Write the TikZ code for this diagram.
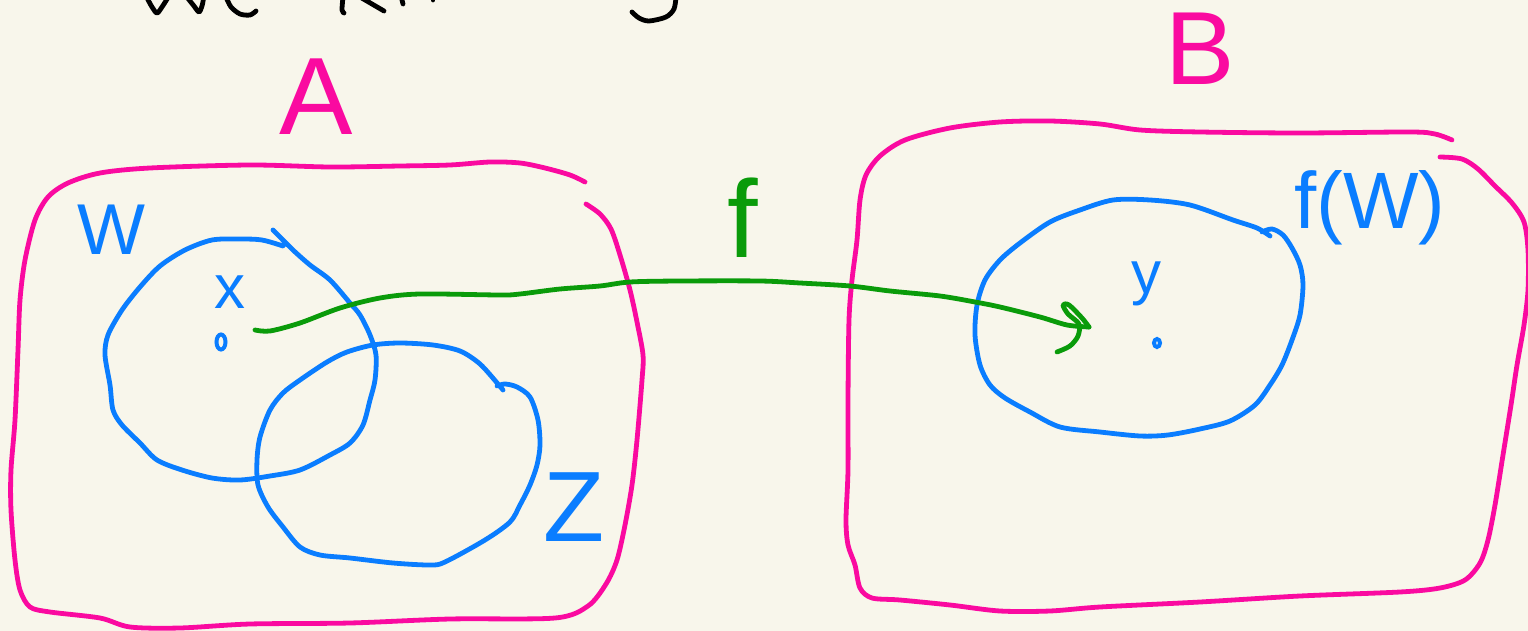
\documentclass[tikz,border=0pt]{standalone}
\usepackage{fontspec}
\setmainfont{Liberation Sans}
\definecolor{bg}{RGB}{248,246,235}
\definecolor{pnk}{RGB}{250,10,160}
\definecolor{blu}{RGB}{10,125,255}
\definecolor{grn}{RGB}{10,155,10}
\tikzset{
  pen/.style={line width=4.8pt,line cap=round,line join=round},
  lbl/.style={inner sep=0pt,outer sep=0pt},
}
\newcommand{\fsz}[1]{\fontsize{#1}{#1}\selectfont}
\begin{document}
\begin{tikzpicture}[x=1pt,y=-1pt]
\fill[bg] (0,0) rectangle (1528,631);
\useasboundingbox (0,0) rectangle (1528,631);
\clip (0,0) rectangle (1528,631);

% cut-off handwriting at the top
\begin{scope}[pen,black]
\draw plot[smooth] coordinates {(146,-4) (152,7) (157,13) (162,7) (169,-4)};
\draw plot[smooth] coordinates {(186,-4) (194,6) (199,12) (202,6) (204,-4)};
\draw plot[smooth] coordinates {(226,-3) (231,7) (240,14) (250,15) (256,11)};
\draw plot[smooth] coordinates {(343,-3) (342,10) (344,13)};
\draw (360,-3) -- (384,11);
\draw (402,0) -- (403,4);
\draw (433,-3) -- (433,0);
\draw plot[smooth] coordinates {(676,-3) (674,9) (666,17) (649,21) (639,18) (632,12)};
\end{scope}

% set A
\draw[pen,pnk] plot[smooth,tension=0.5] coordinates {(585,182) (570,175) (545,168) (520,163) (490,162) (450,165) (400,166) (330,167) (250,165) (150,168) (100,173) (68,183) (48,197) (35,220) (25,260) (20,300) (18,350) (15,420) (11,470) (11,510) (15,560) (20,590) (30,607) (50,612) (100,618) (130,627) (180,628) (250,624) (350,623) (450,619) (555,618) (588,606) (606,584) (617,560) (625,525) (632,485) (637,440) (642,380) (643,355) (637,322) (630,290) (620,255) (611,229) (600,214) (586,204)};
\node[lbl,text=pnk] (A) at (316,97) {\fsz{110}A};

% set B
\draw[pen,pnk] plot[smooth,tension=0.5] coordinates {(1452,140) (1435,134) (1410,132) (1300,133) (1200,132) (1140,130) (1100,124) (1050,121) (1000,122) (950,128) (905,140) (880,156) (866,175) (860,200) (857,240) (852,280) (849,320) (848,400) (848,470) (846,520) (848,545) (855,565) (860,588) (872,598) (900,600) (950,605) (1000,611) (1050,611) (1100,607) (1200,602) (1300,596) (1400,592) (1440,588) (1465,580) (1480,563) (1488,540) (1495,505) (1503,455) (1511,405) (1517,365) (1524,325) (1528,290) (1528,250) (1524,222) (1512,203) (1495,186) (1478,169) (1462,159) (1440,157)};
\node[lbl,text=pnk] (B) at (1200,49) {\fsz{104}B};

% W
\draw[pen,blu] plot[smooth,tension=0.5] coordinates {(283,246) (262,240) (240,239) (212,240) (185,250) (160,266) (140,287) (122,310) (108,335) (105,355) (110,385) (113,410) (122,425) (140,443) (157,460) (182,470) (212,478) (240,480) (270,476) (300,470) (330,455) (350,443) (363,425) (370,400) (375,380) (376,355) (370,335) (360,315) (350,303) (330,280) (310,265) (293,250) (273,230)};
\node[lbl,text=blu] (W) at (111,230) {\fsz{72}W};
\node[lbl,text=blu] (x) at (230,292) {\fsz{62}x};
\draw[line width=4pt,blu] (221,342) ellipse [x radius=4.5, y radius=7.5];

% Z
\draw[pen,blu] plot[smooth,tension=0.5] coordinates {(497,386) (505,384) (517,387) (530,397) (538,420) (540,445) (537,465) (530,485) (520,505) (510,522) (485,540) (445,562) (430,565) (393,563) (350,558) (320,555) (300,547) (283,527) (268,507) (258,485) (257,460) (260,437) (270,410) (283,393) (300,380) (327,362) (347,352) (373,345) (400,343) (433,345) (460,351) (480,364) (498,384) (503,390)};
\node[lbl,text=blu] (Z) at (574,507) {\fsz{100}Z};

% f(W)
\draw[pen,blu] plot[smooth,tension=0.5] coordinates {(1270,236) (1257,228) (1233,220) (1190,205) (1150,200) (1113,200) (1080,210) (1050,222) (1020,243) (1000,260) (985,280) (977,305) (975,335) (980,365) (990,385) (1005,398) (1030,412) (1060,427) (1100,432) (1140,436) (1168,435) (1200,429) (1230,421) (1255,405) (1270,385) (1282,365) (1292,340) (1300,315) (1303,285) (1300,265) (1292,248) (1283,235) (1272,229) (1262,232)};
\node[lbl,text=blu] (fW) at (1370,208) {\fsz{80}f(W)};
\node[lbl,text=blu] (y) at (1146,284) {\fsz{60}y};
\draw[line width=4pt,blu] (1157,343) ellipse [x radius=3, y radius=4];

% map f
\draw[pen,grn] plot[smooth,tension=0.5] coordinates {(255,330) (270,331) (300,323) (340,308) (380,298) (420,294) (500,295) (520,294) (560,289) (600,286) (630,282) (680,281) (760,281) (800,283) (850,286) (890,291) (940,296) (975,302) (1000,307) (1040,317) (1067,325) (1089,327)};
\draw[pen,grn] plot[smooth,tension=0.5] coordinates {(1089,327) (1082,318) (1069,305) (1063,305) (1068,314) (1079,324) (1078,336) (1070,346) (1057,352)};
\node[lbl,text=grn] (f) at (743,218) {\fsz{110}f};
\end{tikzpicture}
\end{document}
